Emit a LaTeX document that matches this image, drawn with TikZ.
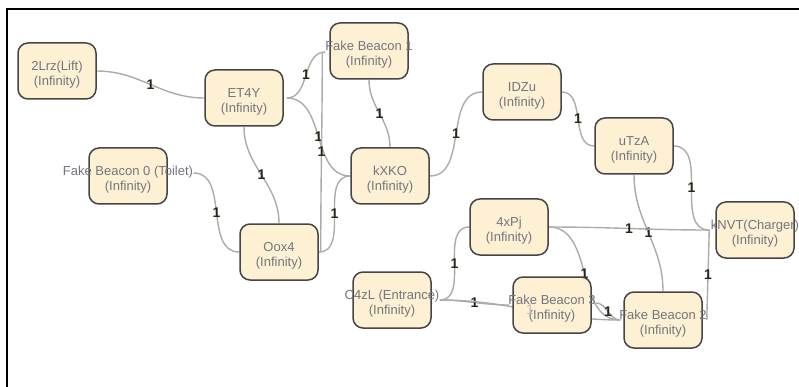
\documentclass[tikz,border=0pt]{standalone}
\usepackage{fontspec}
\setmainfont{Liberation Sans}
\usepackage{xcolor}
\usepackage{tikz}
\pgfdeclarelayer{background}
\pgfsetlayers{background,main}

\definecolor{boxfill}{HTML}{FDF0D3}
\definecolor{boxline}{HTML}{454545}
\definecolor{boxtext}{HTML}{74747E}
\definecolor{edgegray}{HTML}{ABABAB}
\definecolor{wtcolor}{HTML}{2A2418}

% first line may be wider than the box
\newcommand{\nodetext}[1]{\rule{0pt}{16pt}\makebox[0pt]{#1}\\(Infinity)}

\begin{document}
\begin{tikzpicture}[x=1pt, y=1pt,
    beacon/.style={draw=boxline, line width=1.5pt, fill=boxfill, rounded corners=10pt, minimum width=78pt, minimum height=56pt, align=center, text=boxtext, font=\fontsize{13}{15}\selectfont},
    link/.style={draw=edgegray, line width=1.4pt},
    wt/.style={inner sep=0pt, text=wtcolor, font=\fontsize{14}{14}\selectfont\bfseries}
]
\useasboundingbox (0,0) rectangle (799,-387);
\draw[line width=2pt] (7,-387) -- (7,-9) -- (799,-9);

\node[beacon] (lift) at (57,-71) {\nodetext{2Lrz(Lift)}};
\node[beacon] (et) at (244,-98) {\nodetext{ET4Y}};
\node[beacon] (fbone) at (369,-51) {\nodetext{Fake Beacon 1}};
\node[beacon] (fbzero) at (128,-176) {\nodetext{Fake Beacon 0 (Toilet)}};
\node[beacon] (kxko) at (390,-176) {\nodetext{kXKO}};
\node[beacon] (oox) at (279,-252) {\nodetext{Oox4}};
\node[beacon] (cfour) at (392,-300) {\nodetext{C4zL (Entrance)}};
\node[beacon] (idzu) at (522,-92) {\nodetext{IDZu}};
\node[beacon] (utza) at (634,-146) {\nodetext{uTzA}};
\node[beacon] (fourx) at (509,-227) {\nodetext{4xPj}};
\node[beacon] (fbthree) at (552,-305) {\nodetext{Fake Beacon 3}};
\node[beacon] (fbtwo) at (663,-320) {\nodetext{Fake Beacon 2}};
\node[beacon] (knvt) at (755,-230) {\nodetext{kNVT(Charger)}};

\begin{pgfonlayer}{background}
\draw[link] (lift.east) to[out=0,in=180] node[wt]{1} (et.west);
\draw[link] ([xshift=3pt]et.east) to[out=0,in=180] node[wt]{1} ([xshift=-4pt,yshift=-1pt]fbone.west);
\draw[link] ([xshift=3pt]et.east) to[out=0,in=180] node[wt]{1} (kxko.west);
\draw[link] (et.south) to[out=-90,in=90] node[wt]{1} (oox.north);
\draw[link] ([xshift=26pt,yshift=3pt]fbzero.east) to[out=0,in=180] node[wt]{1} (oox.west);
\draw[link] ([xshift=-7pt,yshift=-1pt]fbone.west) to[out=-90,in=90] node[wt]{1} ([xshift=2pt]oox.east);
\draw[link] (fbone.south) to[out=-90,in=90] node[wt]{1} (kxko.north);
\draw[link] (oox.east) to[out=0,in=180] node[wt]{1} (kxko.west);
\draw[link] (kxko.east) to[out=0,in=180] node[wt]{1} (idzu.west);
\draw[link] (idzu.east) to[out=0,in=180] node[wt]{1} (utza.west);
\draw[link] (utza.east) to[out=0,in=180] node[wt]{1} ([xshift=-6pt]knvt.west);
\draw[link] (utza.south) to[out=-90,in=90] node[wt]{1} (fbtwo.north);
\draw[link] (fourx.east) to[out=0,in=180] node[wt]{1} ([xshift=-6pt]knvt.west);
\draw[link] (fourx.east) to[out=0,in=180] node[wt]{1} ([xshift=-3pt]fbtwo.west);
\draw[link] ([xshift=8pt]cfour.east) to[out=0,in=180] node[wt]{1} (fourx.west);
\draw[link] ([xshift=8pt]cfour.east) to[out=0,in=180] node[wt]{1} ([xshift=-3pt]fbthree.west);
\draw[link] ([xshift=8pt]cfour.east) to[out=0,in=180] ([xshift=-3pt]fbtwo.west);
\draw[link] ([xshift=4pt,yshift=2pt]fbthree.east) to[out=0,in=180] node[wt]{1} ([xshift=-3pt]fbtwo.west);
\draw[link] ([xshift=-6pt]knvt.west) -- node[wt]{1} ([xshift=4pt]fbtwo.east);
\end{pgfonlayer}
\path ([xshift=8pt]cfour.east) to[out=0,in=180] node[wt, text=wtcolor!30, font=\fontsize{14}{14}\selectfont]{1} ([xshift=-3pt]fbtwo.west);
\end{tikzpicture}
\end{document}
